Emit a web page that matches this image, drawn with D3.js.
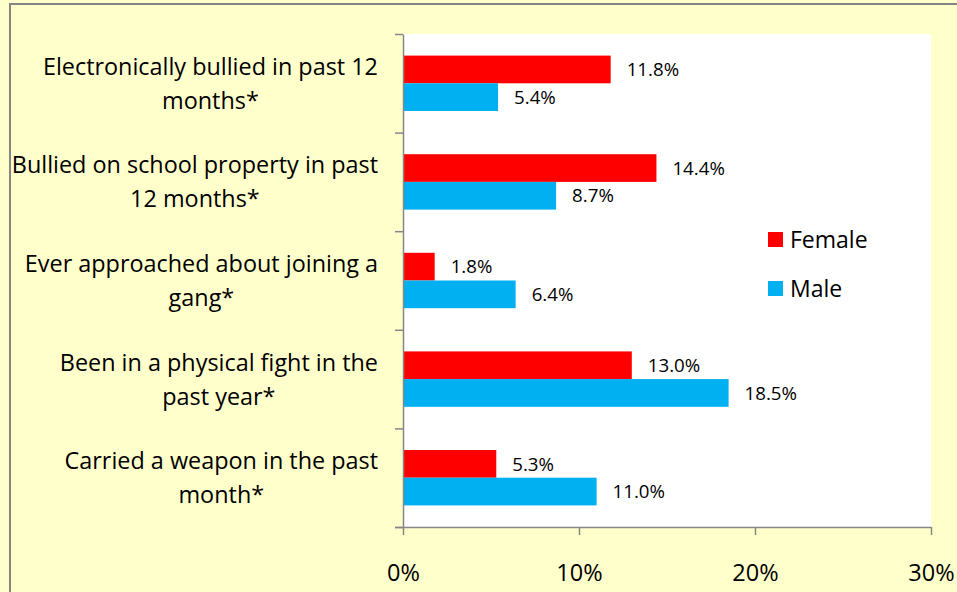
<!DOCTYPE html>
<html>
<head>
<meta charset="utf-8">
<script src="https://cdn.jsdelivr.net/npm/d3@7/dist/d3.min.js"></script>
<style>
  html, body { margin: 0; padding: 0; background: #FFFFCC; }
  svg { display: block; font-family: "Open Sans", Lato, sans-serif; }
</style>
</head>
<body>
<svg id="chart" width="957" height="592"></svg>
<script>
// Category labels, each split into its display lines
const categories = [
  "Electronically bullied in past 12 months*",
  "Bullied on school property in past 12 months*",
  "Ever approached about joining a gang*",
  "Been in a physical fight in the past year*",
  "Carried a weapon in the past month*"
];
const categoryLines = [
  ["Electronically bullied in past 12", "months*"],
  ["Bullied on school property in past", "12 months*"],
  ["Ever approached about joining a", "gang*"],
  ["Been in a physical fight in the", "past year*"],
  ["Carried a weapon in the past", "month*"]
];
const seriesNames = ["Female", "Male"];
const femaleValues = [11.8, 14.4, 1.8, 13.0, 5.3];
const maleValues = [5.4, 8.7, 6.4, 18.5, 11.0];
const xTicks = [0, 10, 20, 30];

const colors = { Female: "#FF0000", Male: "#00B0F0" };
const axisColor = "#868686";

const svg = d3.select("#chart");
const W = 957, H = 592;
const plot = { left: 403, right: 931, top: 34, bottom: 527 };

// outer chart frame
svg.append("rect")
  .attr("x", 0).attr("y", 0).attr("width", W).attr("height", H)
  .attr("fill", "#FFFFCC");
svg.append("rect")
  .attr("x", 10).attr("y", 4).attr("width", W + 20).attr("height", H + 20)
  .attr("fill", "none").attr("stroke", axisColor).attr("stroke-width", 2);

// white plot area
svg.append("rect")
  .attr("x", plot.left).attr("y", plot.top)
  .attr("width", plot.right - plot.left).attr("height", plot.bottom - plot.top)
  .attr("fill", "#FFFFFF");

const x = d3.scaleLinear().domain([0, 30]).range([plot.left, plot.right]);
const y = d3.scaleBand().domain(categories).range([plot.top, plot.bottom]).padding(0);
const ySub = d3.scaleBand().domain(seriesNames).range([0, y.bandwidth()])
  .paddingInner(0).paddingOuter(0.78);

const rows = categories.map((c, i) => ({
  category: c,
  lines: categoryLines[i],
  values: [
    { series: "Female", value: femaleValues[i] },
    { series: "Male", value: maleValues[i] }
  ]
}));

// bars
const groups = svg.append("g").selectAll("g")
  .data(rows).join("g")
  .attr("transform", d => `translate(0,${y(d.category)})`);

groups.selectAll("rect")
  .data(d => d.values).join("rect")
  .attr("x", x(0))
  .attr("y", d => ySub(d.series))
  .attr("width", d => x(d.value) - x(0))
  .attr("height", ySub.bandwidth())
  .attr("fill", d => colors[d.series]);

// value labels
groups.selectAll("text")
  .data(d => d.values).join("text")
  .attr("x", d => x(d.value) + 16)
  .attr("y", d => ySub(d.series) + ySub.bandwidth() / 2)
  .attr("dy", "0.36em")
  .attr("font-size", 18.7)
  .attr("fill", "#000")
  .text(d => d.value.toFixed(1) + "%");

// y axis: ticks on category boundaries
const yEdge = d3.scaleLinear().domain([0, categories.length]).range([plot.top, plot.bottom]);
const yAxis = svg.append("g")
  .attr("transform", `translate(${plot.left},0)`)
  .call(d3.axisLeft(yEdge).tickValues(d3.range(categories.length + 1))
    .tickFormat("").tickSizeInner(8).tickSizeOuter(0));
yAxis.selectAll("path, line").attr("stroke", axisColor).attr("stroke-width", 1.5);

// x axis
const xAxis = svg.append("g")
  .attr("transform", `translate(0,${plot.bottom})`)
  .call(d3.axisBottom(x).tickValues(xTicks).tickFormat(d => d + "%")
    .tickSizeInner(8).tickSizeOuter(0).tickPadding(29));
xAxis.selectAll("path, line").attr("stroke", axisColor).attr("stroke-width", 1.5);
xAxis.select(".domain").attr("d", `M${plot.left - 8},0.5H${plot.right}`);
xAxis.selectAll("text").attr("font-size", 23.5).attr("fill", "#000")
  .attr("font-family", "'Open Sans', Lato, sans-serif");

// category labels: block right-aligned, lines centred within it
const labelRight = 378;
const lineGap = 34;
rows.forEach(r => {
  const g = svg.append("g");
  const texts = g.selectAll("text").data(r.lines).join("text")
    .attr("font-size", 23.4)
    .attr("fill", "#000")
    .attr("text-anchor", "middle")
    .text(d => d);
  const maxW = d3.max(texts.nodes(), n => n.getComputedTextLength());
  const cx = labelRight - maxW / 2;
  const cy = y(r.category) + y.bandwidth() / 2;
  texts.attr("x", cx)
    .attr("y", (d, i) => cy + (i - (r.lines.length - 1) / 2) * lineGap)
    .attr("dy", "0.36em");
});

// legend
const legend = svg.append("g").attr("transform", "translate(768,232)");
const items = legend.selectAll("g").data(seriesNames).join("g")
  .attr("transform", (d, i) => `translate(0,${i * 49})`);
items.append("rect").attr("width", 15).attr("height", 15)
  .attr("fill", d => colors[d]);
items.append("text").attr("x", 22).attr("y", 7.5).attr("dy", "0.36em")
  .attr("font-size", 23).attr("fill", "#000").text(d => d);
</script>
</body>
</html>
